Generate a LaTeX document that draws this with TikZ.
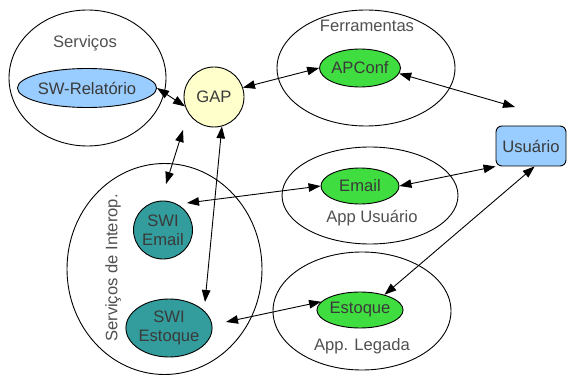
\documentclass[tikz,border=0pt]{standalone}
\usepackage{fontspec}
\setmainfont{Liberation Sans}
\usetikzlibrary{arrows.meta,calc,shapes.geometric}

\definecolor{txt}{HTML}{3A3A3A}
\definecolor{lbl}{HTML}{505050}
\definecolor{greenfill}{HTML}{3FDD3F}
\definecolor{tealfill}{HTML}{339C9C}
\definecolor{bluefill}{HTML}{99CCFF}
\definecolor{gapfill}{HTML}{FFFFCC}

\tikzset{
  app/.style={draw, ellipse, fill=greenfill, line width=0.9pt, inner sep=0pt},
  swi/.style={draw, ellipse, fill=tealfill, line width=0.9pt, inner sep=0pt, align=center},
  grouplabel/.style={text=lbl, font=\fontsize{16.6}{18}\selectfont},
  biarrow/.style={line width=0.9pt, {Triangle[length=12pt,width=8.5pt]}-{Triangle[length=12pt,width=8.5pt]}},
}

\begin{document}
\begin{tikzpicture}[x=1pt, y=-1pt, font=\fontsize{16.6}{19}\selectfont, text=txt]
\useasboundingbox (0,0) rectangle (568,377);

% enclosing groups
\draw[line width=0.9pt] (87.5,78) ellipse [x radius=78.5, y radius=68];
\draw[line width=0.9pt] (366,68) ellipse [x radius=89, y radius=58];
\draw[line width=0.9pt] (370,195.5) ellipse [x radius=88, y radius=48.5];
\draw[line width=0.9pt] (362,311) ellipse [x radius=89, y radius=59];
\draw[line width=0.9pt] (164.5,269) ellipse [x radius=97.5, y radius=105.5];

% group captions
\node[grouplabel] (lserv) at (85,43) {Serviços};
\node[grouplabel] (lferr) at (367,26) {Ferramentas};
\node[grouplabel] (lappu) at (372,218) {App Usuário};
\node[grouplabel] (lappl) at (362,346) {App. Legada};
\node[grouplabel, rotate=90] (linter) at (113,268) {Serviços de Interop.};

% components
\node[draw, ellipse, fill=bluefill, line width=0.9pt, minimum width=118pt, minimum height=39pt, inner sep=0pt] (swr) at (87,88) {SW-Relatório};
\node[draw, circle, fill=gapfill, line width=0.9pt, minimum size=60pt, inner sep=0pt] (gap) at (214,97) {GAP};
\node[app, minimum width=78pt, minimum height=38pt] (apc) at (360,68) {APConf};
\node[app, minimum width=78pt, minimum height=36pt] (eml) at (360,186) {Email};
\node[app, minimum width=80pt, minimum height=36pt] (est) at (360,310) {Estoque};
\node[swi, minimum width=59pt, minimum height=58pt] (swie) at (163,230) {SWI\\Email};
\node[swi, minimum width=78pt, minimum height=58pt] (swis) at (169,328) {SWI\\Estoque};
\node[draw, fill=bluefill, rounded corners=6pt, line width=0.9pt, minimum width=70pt, minimum height=40pt, inner sep=0pt] (usr) at (531,146) {Usuário};

% free connector ends
\coordinate (usrTop) at (515,107);
\coordinate (gapLow) at (183,130);
\coordinate (swieTop) at (166,184);
\coordinate (swieRight) at (187,203);
\coordinate (swisTop) at (205,302);
\coordinate (swisRight) at (226,322);

% connectors
\draw[biarrow] (swr.east) -- (gap.198);
\draw[biarrow] (gap.18) -- (apc.west);
\draw[biarrow] (apc.-8) -- (usrTop);
\draw[biarrow] (gapLow) -- (swieTop);
\draw[biarrow] (gap.-75) -- (swisTop);
\draw[biarrow] (swieRight) -- (eml.west);
\draw[biarrow] (eml.east) -- (usr.south west);
\draw[biarrow] (swisRight) -- (est.168);
\draw[biarrow] (est.32) -- (usr.-80);
\end{tikzpicture}
\end{document}
